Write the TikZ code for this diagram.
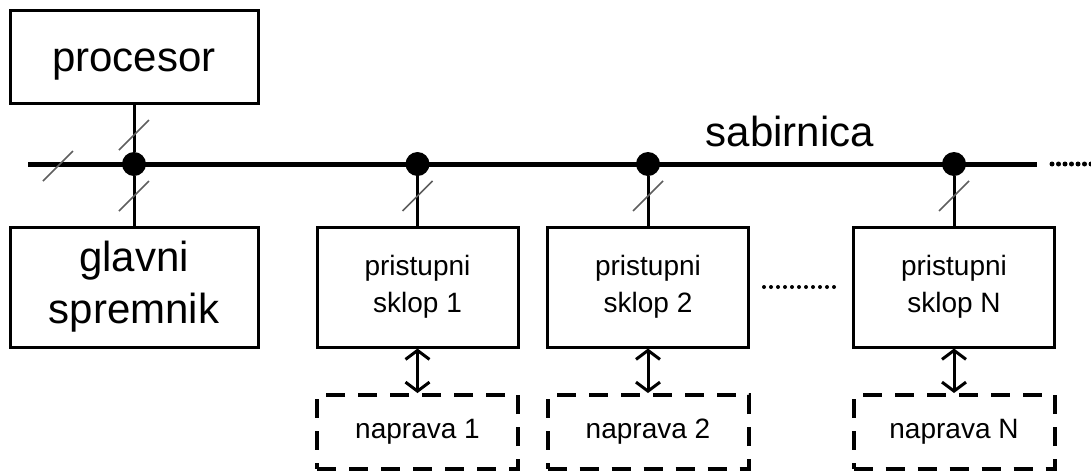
\documentclass[tikz,border=0pt]{standalone}
\usepackage{fontspec}
\setmainfont{Liberation Sans}
\usetikzlibrary{arrows.meta}
\definecolor{crtica}{HTML}{5E5E5E}
\tikzset{blok/.style={black,draw=black,line width=3pt,rectangle,align=center,font=\fontsize{42}{52}\selectfont}}
\tikzset{sklop/.style={black,draw=black,line width=3pt,rectangle,align=center,minimum width=201pt,minimum height=120pt,font=\fontsize{28}{37}\selectfont}}
\tikzset{naprava/.style={black,draw=black,line width=4pt,dash pattern=on 19pt off 13pt,rectangle,minimum width=201pt,minimum height=74pt,font=\fontsize{28}{34}\selectfont}}
\tikzset{spoj/.style={circle,fill=black,inner sep=0pt,minimum size=24pt}}
\tikzset{bus/.style={line width=5pt}}
\tikzset{veza/.style={line width=3pt}}
\tikzset{kosa/.style={crtica,line width=1.6pt}}

\begin{document}
\begin{tikzpicture}[x=1pt,y=-1pt]
            \useasboundingbox (0,0) rectangle (1091,472);

            \node[blok,minimum width=248pt,minimum height=93pt,text height=28pt,text depth=0pt] (proc) at (134,57) {procesor};
            \node[blok,minimum width=248pt,minimum height=120pt] (mem) at (134,287) {glavni\\spremnik};
            \node[sklop] (s1) at (417.5,287) {pristupni\\sklop 1};
            \node[sklop] (s2) at (648,287) {pristupni\\sklop 2};
            \node[sklop] (sN) at (954,287) {pristupni\\sklop N};
            \node[naprava] (n1) at (417.5,432) {naprava 1};
            \node[naprava] (n2) at (648,432) {naprava 2};
            \node[naprava] (nN) at (954,432) {naprava N};
            \node[font=\fontsize{42}{52}\selectfont] (sab) at (790,131) {sabirnica};

            % sabirnica
            \coordinate (busL) at (28,164);
            \coordinate (busR) at (1037,164);
            \coordinate (dotL) at (1052,164);
            \coordinate (dotR) at (1094,164);
            \draw[bus] (busL) -- (busR);
            \draw[line width=5pt,line cap=round,dash pattern=on 0pt off 6.5pt] (dotL) -- (dotR);
            \node[spoj] (j0) at (134,164) {};
            \node[spoj] (j1) at (417.5,164) {};
            \node[spoj] (j2) at (648,164) {};
            \node[spoj] (jN) at (954,164) {};

            \draw[veza] (proc) -- (j0);
            \draw[veza] (j0) -- (mem);
            \draw[veza] (j1) -- (s1);
            \draw[veza] (j2) -- (s2);
            \draw[veza] (jN) -- (sN);

            \foreach \x/\y in {58/166,134/135,134/196,417.5/196,648/196,954/196}
                \draw[kosa] (\x-15,\y+15) -- (\x+15,\y-15);

            \draw[<->,>={Straight Barb[length=9pt,width=24pt,line width=3pt]},line width=3pt] (s1) -- (n1);
            \draw[<->,>={Straight Barb[length=9pt,width=24pt,line width=3pt]},line width=3pt] (s2) -- (n2);
            \draw[<->,>={Straight Barb[length=9pt,width=24pt,line width=3pt]},line width=3pt] (sN) -- (nN);

            \path (s2.east) ++(14,0) coordinate (d1) (sN.west) ++(-12,0) coordinate (d2);
            \draw[line width=4pt,line cap=round,dash pattern=on 0pt off 7pt] (d1) -- (d2);
            \end{tikzpicture}
\end{document}
